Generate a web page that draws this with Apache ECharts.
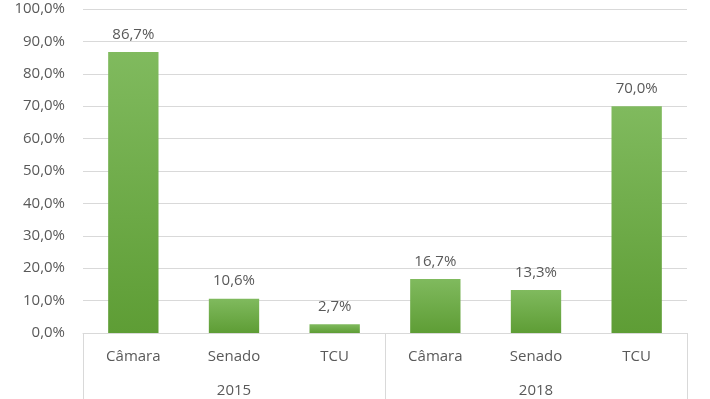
<!DOCTYPE html>
<html>
<head>
<meta charset="utf-8">
<script src="https://cdn.jsdelivr.net/npm/echarts@6/dist/echarts.min.js"></script>
<style>
  html, body { margin: 0; padding: 0; background: #fff; }
  #chart { width: 710px; height: 399px; }
</style>
</head>
<body>
<div id="chart"></div>
<script>
// dados
const categorias = ["Câmara", "Senado", "TCU", "Câmara", "Senado", "TCU"];
const anos = ["2015", "2018"];
const valores = [86.7, 10.6, 2.7, 16.7, 13.3, 70.0];
const yTicks = [0, 10, 20, 30, 40, 50, 60, 70, 80, 90, 100];

function fmt(v) {
  return v.toFixed(1).replace(".", ",") + "%";
}

const fonte = "'Open Sans', Lato, sans-serif";
const cinza = "#595959";

var myChart = echarts.init(document.getElementById("chart"));
myChart.setOption({
  animation: false,
  grid: { left: 83, right: 23, top: 9, bottom: 66 },
  xAxis: [
    {
      type: "category",
      data: categorias,
      position: "bottom",
      axisLine: { show: true, lineStyle: { color: "#d9d9d9", width: 1 } },
      axisTick: { show: false },
      axisLabel: { color: cinza, fontSize: 15, fontFamily: fonte, margin: 16 }
    },
    {
      type: "category",
      data: anos,
      position: "bottom",
      axisLine: { show: false },
      axisTick: { show: true, length: 66, interval: 0, lineStyle: { color: "#d9d9d9" } },
      axisLabel: { color: cinza, fontSize: 15, fontFamily: fonte, margin: 50 }
    }
  ],
  yAxis: {
    type: "value",
    min: yTicks[0],
    max: yTicks[yTicks.length - 1],
    interval: 10,
    axisLine: { show: false },
    axisTick: { show: false },
    splitLine: { lineStyle: { color: "#d9d9d9" } },
    axisLabel: {
      color: cinza, fontSize: 15, fontFamily: fonte, margin: 18,
      formatter: function (v) { return fmt(v); }
    }
  },
  series: [
    {
      type: "bar",
      data: valores,
      xAxisIndex: 0,
      barWidth: "50%",
      itemStyle: {
        color: new echarts.graphic.LinearGradient(0, 0, 0, 1, [
          { offset: 0, color: "#80ba5e" },
          { offset: 1, color: "#5e9d35" }
        ])
      },
      label: {
        show: true,
        position: "top",
        distance: 10,
        color: cinza,
        fontSize: 15,
        fontFamily: fonte,
        formatter: function (p) { return fmt(p.value); }
      }
    }
  ]
});
</script>
</body>
</html>
